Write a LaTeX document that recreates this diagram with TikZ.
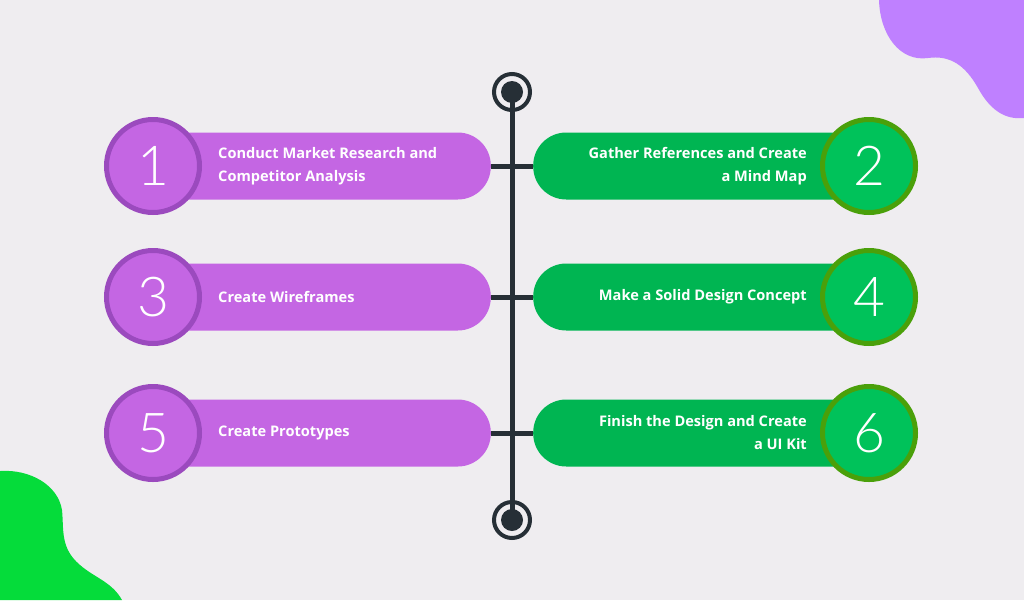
\documentclass[tikz,border=0pt]{standalone}
\usepackage{fontspec}
\setmainfont{Open Sans}
\newfontfamily\numfont{Lato Light}
\usepackage{xcolor}
\usetikzlibrary{positioning}
\definecolor{sbg}{RGB}{239,237,240}
\definecolor{sdark}{RGB}{38,47,54}
\definecolor{spurple}{RGB}{196,102,227}
\definecolor{spring}{RGB}{155,74,190}
\definecolor{sgreen}{RGB}{0,181,82}
\definecolor{sgfill}{RGB}{0,194,90}
\definecolor{sgring}{RGB}{74,160,10}
\definecolor{sblobp}{RGB}{191,128,255}
\definecolor{sblobg}{RGB}{5,220,58}

\begin{document}
\begin{tikzpicture}[
  x=1pt, y=-1pt,
  pill/.style={rounded corners=33pt, fill=#1, minimum width=341pt,
               minimum height=67pt, inner sep=0pt},
  numc/.style={circle, fill=#1, line width=5pt, minimum size=93pt, inner sep=0pt,
               text=white, font=\numfont\fontsize{55}{55}\selectfont},
  steptext/.style={text=white, inner sep=0pt,
                   font=\bfseries\fontsize{14.6}{23}\selectfont},
  link/.style={sdark, line width=5pt},
  ring/.style={circle, draw=sdark, line width=4pt, minimum size=36pt, inner sep=0pt},
  dot/.style={circle, fill=sdark, minimum size=22pt, inner sep=0pt}
]
\useasboundingbox (0,0) rectangle (1024,600);
\fill[sbg] (0,0) rectangle (1024,600);

% ---- Corner blobs ----
\fill[sblobp] (879,0) .. controls (880,35) and (900,62) .. (928,58)
  .. controls (950,55) and (965,65) .. (978,88)
  .. controls (990,110) and (1005,120) .. (1024,118) -- (1024,0) -- cycle;
\fill[sblobg] (0,471) .. controls (30,469) and (58,485) .. (62,510)
  .. controls (64,530) and (60,548) .. (80,565)
  .. controls (95,578) and (112,582) .. (122,600) -- (0,600) -- cycle;

% ---- Timeline ends ----
\node[ring] (top) at (512,92) {};
\node[ring] (bot) at (512,520) {};
\draw[link] (top.center) -- (bot.center);
\node[dot] at (top) {};
\node[dot] at (bot) {};

% ---- Pills ----
\node[pill=spurple, anchor=east] (p1) at (491,166) {};
\node[pill=sgreen,  anchor=west] (p2) at (533,166) {};
\node[pill=spurple, anchor=east] (p3) at (491,297) {};
\node[pill=sgreen,  anchor=west] (p4) at (533,297) {};
\node[pill=spurple, anchor=east] (p5) at (491,433) {};
\node[pill=sgreen,  anchor=west] (p6) at (533,433) {};

\draw[link] (p1.east) -- (p1.east -| top);
\draw[link] (p2.west) -- (p2.west -| top);
\draw[link] (p3.east) -- (p3.east -| top);
\draw[link] (p4.west) -- (p4.west -| top);
\draw[link] (p5.east) -- (p5.east -| top);
\draw[link] (p6.west) -- (p6.west -| top);

% ---- Numbered circles ----
\node[numc=spurple, draw=spring] (c1) at (153,166) {1};
\node[numc=sgfill,  draw=sgring] (c2) at (869,166) {2};
\node[numc=spurple, draw=spring] (c3) at (153,297) {3};
\node[numc=sgfill,  draw=sgring] (c4) at (869,297) {4};
\node[numc=spurple, draw=spring] (c5) at (153,433) {5};
\node[numc=sgfill,  draw=sgring] (c6) at (869,433) {6};

% ---- Step texts ----
\node[steptext, align=left, anchor=west, right=16pt of c1] (t1)
  {Conduct Market Research and\\Competitor Analysis};
\node[steptext, align=right, anchor=east, left=13pt of c2] (t2)
  {Gather References and Create\\a Mind Map};
\node[steptext, align=left, anchor=west, right=16pt of c3] (t3) {Create Wireframes};
\node[steptext, align=right, anchor=east, left=13pt of c4] (t4) {Make a Solid Design Concept};
\node[steptext, align=left, anchor=west, right=16pt of c5] (t5) {Create Prototypes};
\node[steptext, align=right, anchor=east, left=13pt of c6] (t6)
  {Finish the Design and Create\\a UI Kit};

\end{tikzpicture}
\end{document}
